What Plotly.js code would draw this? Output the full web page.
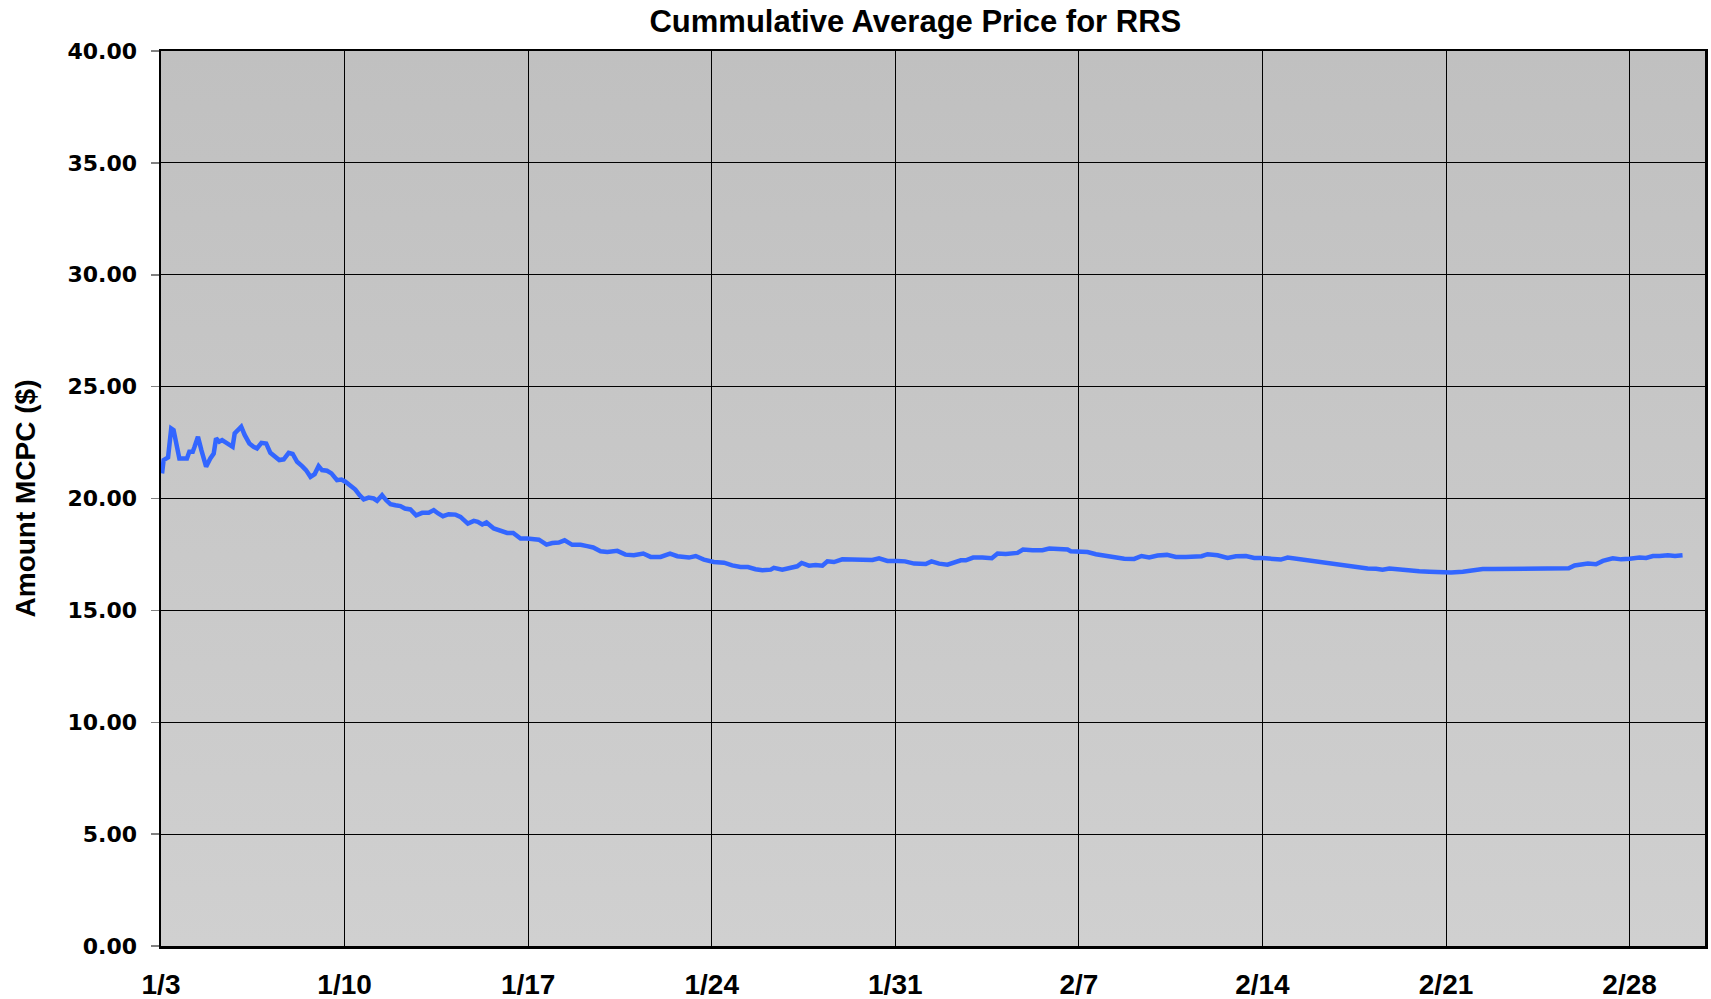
<!DOCTYPE html>
<html>
<head>
<meta charset="utf-8">
<title>Cummulative Average Price for RRS</title>
<script src="https://cdn.plot.ly/plotly-3.0.1.min.js"></script>
<style>
  html, body { margin: 0; padding: 0; background: #fff; }
  #chart { width: 1711px; height: 999px; }
</style>
</head>
<body>
<div id="chart"></div>
<script>
// days since 1/3 (00:00) and the running average MCPC at that time
const startDate = Date.UTC(2008, 0, 3);
const dayOffset = [
  0.04, 0.10, 0.27, 0.39, 0.48, 0.57, 0.70, 0.86, 0.99, 1.08, 1.21, 1.28, 1.41, 1.54, 1.72, 1.88,
  2.01, 2.10, 2.22, 2.33, 2.48, 2.64, 2.73, 2.81, 2.94, 3.06, 3.19, 3.37, 3.53, 3.66, 3.83, 4.01,
  4.17, 4.34, 4.51, 4.68, 4.87, 5.02, 5.19, 5.38, 5.53, 5.70, 5.86, 6.01, 6.14, 6.33, 6.50, 6.71,
  6.88, 7.03, 7.22, 7.41, 7.57, 7.73, 7.92, 8.11, 8.24, 8.43, 8.58, 8.75, 8.94, 9.13, 9.30, 9.51,
  9.73, 9.96, 10.21, 10.40, 10.57, 10.75, 10.97, 11.23, 11.42,
  11.55, 11.70, 11.93, 12.08, 12.25, 12.41, 12.69, 12.95, 13.20, 13.43, 13.71, 13.96, 14.22, 14.41,
  14.70, 14.92, 15.17, 15.39, 15.68, 16.00, 16.25, 16.48, 16.76, 17.02, 17.40, 17.71, 18.03, 18.39,
  18.67, 19.05, 19.41, 19.69, 20.13, 20.39, 20.70, 21.08, 21.47, 21.78, 22.10, 22.38, 22.67, 22.93,
  23.25, 23.37, 23.69, 24.01, 24.26, 24.43, 24.71, 24.96, 25.22, 25.41, 25.66, 25.98, 26.36, 26.74,
  27.13, 27.38, 27.70, 28.08, 28.37, 28.72, 29.16, 29.38, 29.67, 29.99, 30.24, 30.50, 30.69, 30.97,
  31.32, 31.68, 31.90, 32.21, 32.66, 32.87, 33.23, 33.61, 33.87, 34.25, 34.57,
  34.69, 34.95, 35.33, 35.65, 35.96, 36.35, 36.73, 37.11, 37.39, 37.68, 38.00, 38.36, 38.70, 39.08,
  39.40, 39.68, 39.91, 40.29, 40.67, 40.99, 41.37, 41.69, 42.01, 42.32, 42.70, 42.96, 43.34, 43.72,
  44.10, 44.49, 44.87, 45.25, 45.63, 46.01,
  46.33, 46.58, 46.84, 47.22, 47.60, 47.98, 48.36, 48.75, 49.19, 49.64, 50.02, 50.40, 50.78, 51.16,
  51.48, 51.80, 52.18, 52.62, 52.94, 53.32, 53.68, 53.90, 54.09, 54.41, 54.72, 54.98, 55.36, 55.68,
  56.00, 56.38, 56.63, 56.89, 57.14, 57.46, 57.73, 58.02
];
const avgPrice = [
  21.12, 21.72, 21.84, 23.13, 23.06, 22.46, 21.79, 21.79, 21.79, 22.09, 22.09, 22.31, 22.76, 22.16, 21.42, 21.79,
  22.01, 22.69, 22.54, 22.61, 22.51, 22.39, 22.31, 22.91, 23.06, 23.21, 22.84, 22.46, 22.31, 22.24, 22.49, 22.46,
  22.04, 21.90, 21.72, 21.75, 22.04, 21.99, 21.64, 21.45, 21.27, 20.97, 21.09, 21.45, 21.27, 21.24, 21.12, 20.82,
  20.85, 20.75, 20.55, 20.40, 20.15, 19.96, 20.04, 20.00, 19.90, 20.15, 19.93, 19.75, 19.70, 19.66, 19.55, 19.51,
  19.25, 19.36, 19.36, 19.48, 19.33, 19.21, 19.30, 19.28, 19.18,
  19.03, 18.88, 19.00, 18.96, 18.84, 18.93, 18.66, 18.55, 18.46, 18.46, 18.21, 18.21, 18.16, 18.16,
  17.94, 18.01, 18.03, 18.13, 17.93, 17.93, 17.87, 17.81, 17.64, 17.61, 17.66, 17.49, 17.46, 17.54,
  17.39, 17.39, 17.54, 17.42, 17.36, 17.43, 17.27, 17.16, 17.13, 17.01, 16.94, 16.94, 16.84, 16.79,
  16.82, 16.90, 16.82, 16.91, 16.97, 17.12, 17.00, 17.03, 17.00, 17.19, 17.16, 17.28, 17.27, 17.24,
  17.25, 17.33, 17.21, 17.21, 17.19, 17.09, 17.07, 17.19, 17.09, 17.04, 17.12, 17.24, 17.24, 17.36,
  17.36, 17.33, 17.54, 17.52, 17.57, 17.72, 17.69, 17.69, 17.76, 17.76, 17.72,
  17.64, 17.64, 17.61, 17.51, 17.46, 17.42, 17.31, 17.30, 17.43, 17.37, 17.45, 17.48, 17.39, 17.39,
  17.42, 17.42, 17.51, 17.46, 17.34, 17.42, 17.43, 17.34, 17.34, 17.31, 17.27, 17.36, 17.30, 17.21,
  17.16, 17.10, 17.04, 17.00, 16.94, 16.87,
  16.86, 16.82, 16.87, 16.82, 16.76, 16.75, 16.73, 16.69, 16.69, 16.73, 16.79, 16.85, 16.85, 16.85,
  16.88, 16.85, 16.87, 16.85, 16.90, 16.90, 16.88, 17.01, 17.03, 17.09, 17.06, 17.21, 17.33, 17.28,
  17.31, 17.36, 17.34, 17.43, 17.43, 17.46, 17.43, 17.46
];

function toDate(d) {
  return new Date(startDate + d * 86400000).toISOString().slice(0, 16).replace('T', ' ');
}

const bgGradient = "data:image/svg+xml;utf8," + encodeURIComponent(
  "<svg xmlns='http://www.w3.org/2000/svg' width='10' height='10' preserveAspectRatio='none'>" +
  "<defs><linearGradient id='g' x1='0' y1='0' x2='0' y2='1'>" +
  "<stop offset='0' stop-color='#c0c0c0'/><stop offset='1' stop-color='#d0d0d0'/>" +
  "</linearGradient></defs><rect width='10' height='10' fill='url(#g)'/></svg>");

const trace = {
  x: dayOffset.map(toDate),
  y: avgPrice,
  type: 'scatter',
  mode: 'lines',
  line: { color: '#3366ff', width: 4.5 },
  hoverinfo: 'x+y'
};

const layout = {
  width: 1711,
  height: 999,
  margin: { l: 161, r: 6, t: 51, b: 53 },
  paper_bgcolor: '#ffffff',
  plot_bgcolor: 'rgba(0,0,0,0)',
  showlegend: false,
  title: {
    text: 'Cummulative Average Price for RRS',
    font: { family: 'Liberation Sans, Arial, sans-serif', size: 31, color: '#000', weight: 'bold' },
    xref: 'container', x: 0.535, xanchor: 'center',
    yref: 'container', y: 0.979, yanchor: 'middle'
  },
  xaxis: {
    type: 'date',
    range: ['2008-01-03 00:00', '2008-03-01 21:00'],
    tick0: '2008-01-03',
    dtick: 7 * 86400000,
    tickformat: '%-m/%-d',
    ticks: '',
    ticklabelstandoff: 12,
    showgrid: true,
    gridcolor: '#000000',
    gridwidth: 1,
    showline: true,
    linecolor: '#000000',
    linewidth: 2.5,
    mirror: true,
    zeroline: false,
    tickfont: { family: 'Liberation Sans, Arial, sans-serif', size: 28, color: '#000', weight: 'bold' }
  },
  yaxis: {
    range: [0, 40],
    tick0: 0,
    dtick: 5,
    tickformat: '.2f',
    ticks: 'outside',
    ticklen: 8,
    tickcolor: '#808080',
    tickwidth: 1.5,
    ticklabelstandoff: 9,
    showgrid: true,
    gridcolor: '#000000',
    gridwidth: 1,
    showline: true,
    linecolor: '#000000',
    linewidth: 2.5,
    mirror: true,
    zeroline: false,
    tickfont: { family: 'DejaVu Sans, Verdana, sans-serif', size: 22, color: '#000', weight: 'bold' },
    title: {
      text: 'Amount MCPC ($)',
      standoff: 24,
      font: { family: 'Liberation Sans, Arial, sans-serif', size: 28, color: '#000', weight: 'bold' }
    }
  },
  images: [{
    source: bgGradient,
    xref: 'paper', yref: 'paper',
    x: 0, y: 1, sizex: 1, sizey: 1,
    xanchor: 'left', yanchor: 'top',
    sizing: 'stretch',
    layer: 'below'
  }]
};

Plotly.newPlot('chart', [trace], layout, { displayModeBar: false, staticPlot: true });
</script>
</body>
</html>
